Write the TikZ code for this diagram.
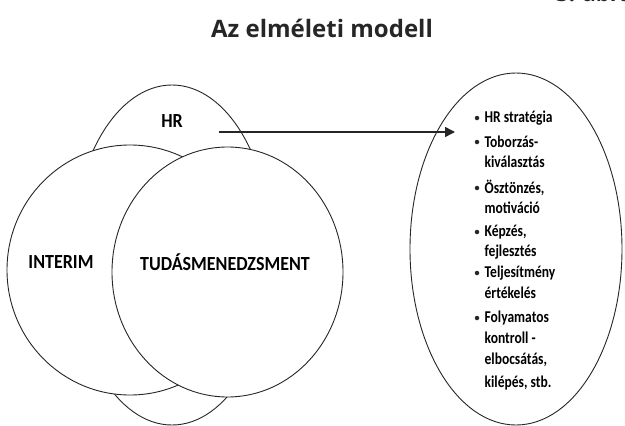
\documentclass[tikz,border=0pt]{standalone}
\usepackage{fontspec}
\setmainfont{Carlito}
\newfontfamily\titlefont{Open Sans}
\usetikzlibrary{shapes.geometric,arrows.meta}
\begin{document}
\begin{tikzpicture}[x=1pt,y=-1pt,
  set/.style={ellipse,draw=black!85,line width=0.9pt,fill=white,inner sep=0pt},
  setlabel/.style={font=\fontsize{20}{20}\selectfont\bfseries,xscale=0.9,inner sep=0pt},
  listline/.style={anchor=west,font=\fontsize{16.5}{16.5}\selectfont\bfseries,xscale=0.82,inner sep=0pt},
  dot/.style={circle,fill=black!85,inner sep=0pt,minimum size=4.5pt},
  link/.style={draw=black!85,line width=1.5pt,-{Triangle[length=10pt,width=10pt]}}]
\useasboundingbox (0,0) rectangle (625,426);
% caption line cut at the top edge and heading
\node[anchor=base west,inner sep=0pt,font=\titlefont\fontsize{22}{22}\selectfont\bfseries,text=black!85] (fig) at (556,1.5) {3. ábra};
\node[inner sep=0pt,font=\titlefont\fontsize{24}{24}\selectfont\bfseries,text=black!85] (title) at (322,28) {Az elméleti modell};
% the three overlapping sets, back to front
\node[set,minimum width=200pt,minimum height=340pt] (hr) at (172,255) {};
\node[set,minimum width=246pt,minimum height=250pt] (interim) at (130,270) {};
\node[set,minimum width=231pt,minimum height=250pt] (tudas) at (227.5,272) {};
\node[setlabel] (hrlab) at (172,121) {HR};
\node[setlabel] (intlab) at (61,262) {INTERIM};
\node[setlabel] (tudlab) at (225,262) {TUDÁSMENEDZSMENT};
% list of HR functions
\node[set,minimum width=212pt,minimum height=352pt] (funcs) at (516,249) {};
\coordinate (from) at (219,132);
\coordinate (to) at (455,132);
\draw[link] (from) -- (to);
\foreach \y/\t [count=\i] in {118/HR stratégia,142/Toborzás-,162/kiválasztás,188/{Ösztönzés,},208/motiváció,232/{Képzés,},252/fejlesztés,273/Teljesítmény,293/értékelés,318/Folyamatos,338/kontroll -,360/{elbocsátás,},383/{kilépés, stb.}}
  \node[listline] (l\i) at (484.5,\y) {\t};
\foreach \y [count=\i] in {118,142,188,232,273,318}
  \node[dot] (b\i) at (477,\y) {};
\end{tikzpicture}
\end{document}
